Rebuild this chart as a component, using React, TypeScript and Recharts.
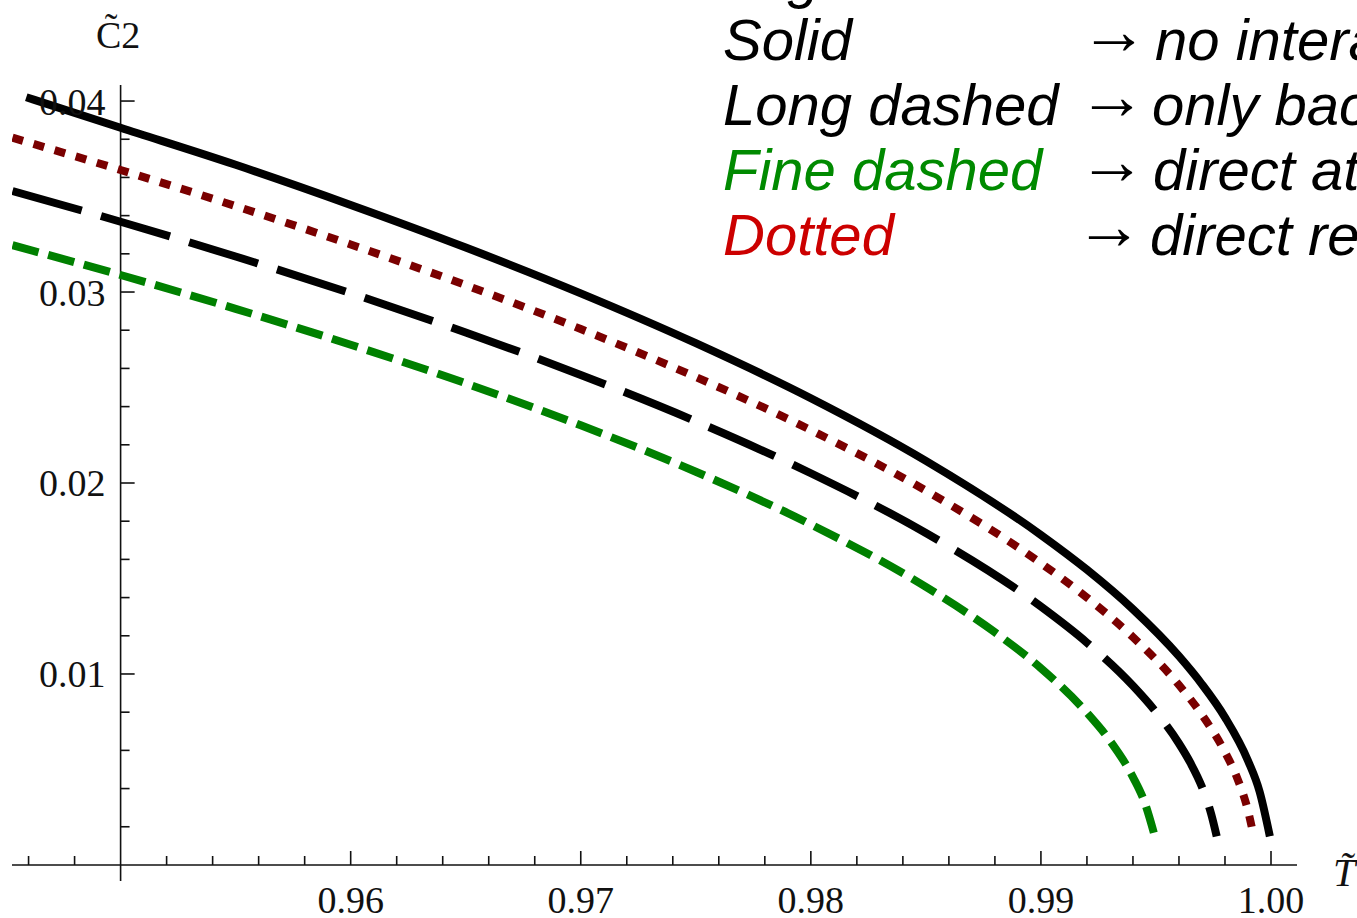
import { Label, Line, LineChart, ReferenceLine, XAxis, YAxis } from "recharts";

// reduced temperature samples and condensate values for each coupling case
const T_SOLID = [0.9459, 0.95, 0.955, 0.96, 0.965, 0.97, 0.975, 0.98, 0.985, 0.99, 0.992, 0.994, 0.996, 0.997, 0.998, 0.999, 0.9995, 0.99995];
const C_SOLID = [0.0402, 0.0386, 0.03666, 0.03456, 0.03233, 0.02993, 0.02732, 0.02444, 0.02116, 0.01728, 0.01546, 0.01339, 0.01093, 0.00946, 0.00773, 0.00546, 0.00386, 0.0015];

const T_DOTTED = [0.9453, 0.95, 0.955, 0.96, 0.965, 0.97, 0.975, 0.98, 0.985, 0.99, 0.992, 0.994, 0.996, 0.997, 0.998, 0.9985, 0.999, 0.99925];
const C_DOTTED = [0.03808, 0.03639, 0.0345, 0.03249, 0.03036, 0.02806, 0.02555, 0.02277, 0.0196, 0.0158, 0.014, 0.01193, 0.00942, 0.00786, 0.00591, 0.00464, 0.00284, 0.0015];

const T_LONG = [0.9453, 0.95, 0.955, 0.96, 0.965, 0.97, 0.975, 0.98, 0.985, 0.99, 0.992, 0.994, 0.995, 0.996, 0.9965, 0.997, 0.9974, 0.99764];
const C_LONG = [0.03529, 0.03368, 0.03186, 0.02994, 0.02788, 0.02566, 0.02323, 0.02051, 0.01738, 0.01353, 0.01164, 0.00938, 0.00801, 0.00636, 0.00534, 0.00408, 0.00267, 0.0015];

const T_FINE = [0.9453, 0.95, 0.955, 0.96, 0.965, 0.97, 0.975, 0.98, 0.985, 0.988, 0.99, 0.992, 0.993, 0.994, 0.9945, 0.99495];
const C_FINE = [0.03245, 0.03089, 0.02912, 0.02724, 0.02522, 0.02302, 0.02059, 0.01783, 0.01456, 0.01218, 0.0103, 0.00797, 0.00651, 0.0046, 0.0033, 0.0015];

// axis ticks
const X_MAJOR = [0.96, 0.97, 0.98, 0.99, 1.0];
const X_LABELS = ["0.96", "0.97", "0.98", "0.99", "1.00"];
const X_MINOR = [
  0.946, 0.948, 0.952, 0.954, 0.956, 0.958, 0.962, 0.964, 0.966, 0.968, 0.972, 0.974, 0.976, 0.978,
  0.982, 0.984, 0.986, 0.988, 0.992, 0.994, 0.996, 0.998,
];
const Y_MAJOR = [0.01, 0.02, 0.03, 0.04];
const Y_LABELS = ["0.01", "0.02", "0.03", "0.04"];
const Y_MINOR = [
  0.002, 0.004, 0.006, 0.008, 0.012, 0.014, 0.016, 0.018, 0.022, 0.024, 0.026, 0.028, 0.032, 0.034,
  0.036, 0.038,
];

const X_DOMAIN: [number, number] = [0.94528, 1.00113];
const Y_DOMAIN: [number, number] = [-0.00084, 0.04084];
const X_ORIGIN = 0.95;

// tick lengths in data units (major / minor)
const XT_MAJ = 0.00073;
const XT_MIN = 0.00047;
const YT_MAJ = 0.00061;
const YT_MIN = 0.00039;

const LEGEND_ROWS = [
  { name: "Solid", color: "#000", y: 60, arrowX: 1080, textX: 1155, text: "no interaction" },
  { name: "Long dashed", color: "#000", y: 125, arrowX: 1078, textX: 1152, text: "only backreaction" },
  { name: "Fine dashed", color: "#008a00", y: 190, arrowX: 1078, textX: 1153, text: "direct attraction" },
  { name: "Dotted", color: "#cc0000", y: 255, arrowX: 1075, textX: 1150, text: "direct repulsion" },
];

const zip = (ts: number[], cs: number[]) => ts.map((t, i) => ({ t, c: cs[i] }));

const serif = "'Liberation Serif', 'Times New Roman', serif";
const sans = "'Liberation Sans', Arial, sans-serif";
const AXIS = "#111";
const LW = 8;

export default function App() {
  return (
    <div style={{ position: "absolute", left: 0, top: 0, width: 1357, height: 918, overflow: "hidden", background: "#fff" }}>
      <LineChart width={1357} height={918} margin={{ top: 85, right: 60, bottom: 37, left: 12 }}>
        <XAxis type="number" dataKey="t" domain={X_DOMAIN} allowDataOverflow hide />
        <YAxis type="number" dataKey="c" domain={Y_DOMAIN} allowDataOverflow hide />

        {/* axes cross at (0.95, 0) */}
        <ReferenceLine y={0} stroke={AXIS} strokeWidth={1.6} />
        <ReferenceLine x={X_ORIGIN} stroke={AXIS} strokeWidth={1.6} />

        {X_MINOR.map((t) => (
          <ReferenceLine key={"xm" + t} segment={[{ x: t, y: 0 }, { x: t, y: XT_MIN }]} stroke={AXIS} strokeWidth={1.6} />
        ))}
        {X_MAJOR.map((t, i) => (
          <ReferenceLine key={"xM" + t} segment={[{ x: t, y: 0 }, { x: t, y: XT_MAJ }]} stroke={AXIS} strokeWidth={1.6}>
            <Label value={X_LABELS[i]} position="bottom" offset={21} fill={AXIS} fontSize={38} fontFamily={serif} />
          </ReferenceLine>
        ))}
        {Y_MINOR.map((c) => (
          <ReferenceLine key={"ym" + c} segment={[{ x: X_ORIGIN, y: c }, { x: X_ORIGIN + YT_MIN, y: c }]} stroke={AXIS} strokeWidth={1.6} />
        ))}
        {Y_MAJOR.map((c, i) => (
          <ReferenceLine key={"yM" + c} segment={[{ x: X_ORIGIN, y: c }, { x: X_ORIGIN + YT_MAJ, y: c }]} stroke={AXIS} strokeWidth={1.6}>
            <Label value={Y_LABELS[i]} position="left" offset={15} fill={AXIS} fontSize={38} fontFamily={serif} />
          </ReferenceLine>
        ))}

        <Line data={zip(T_FINE, C_FINE)} dataKey="c" type="monotone" stroke="#008000" strokeWidth={LW} strokeDasharray="27 10" dot={false} isAnimationActive={false} />
        <Line data={zip(T_LONG, C_LONG)} dataKey="c" type="monotone" stroke="#000" strokeWidth={LW} strokeDasharray="72 20" dot={false} isAnimationActive={false} />
        <Line data={zip(T_DOTTED, C_DOTTED)} dataKey="c" type="monotone" stroke="#7a0000" strokeWidth={LW} strokeDasharray="11 11" dot={false} isAnimationActive={false} />
        <Line data={zip(T_SOLID, C_SOLID)} dataKey="c" type="monotone" stroke="#000" strokeWidth={LW} dot={false} isAnimationActive={false} />
      </LineChart>

      {/* axis titles and legend */}
      <svg width={1357} height={918} style={{ position: "absolute", left: 0, top: 0, pointerEvents: "none" }}>
        <text x={96} y={48} fontFamily={serif} fontSize={38} fill={AXIS}>
          {"C\u03032"}
        </text>
        <text x={1333} y={886} fontFamily={serif} fontSize={40} fontStyle="italic" fill={AXIS}>
          {"T\u0303"}
        </text>
        <g fontFamily={sans} fontSize={58} fontStyle="italic">
          <text x={723} y={-3} fill="#000">Legend:</text>
          {LEGEND_ROWS.map((r) => (
            <g key={r.name}>
              <text x={723} y={r.y} fill={r.color}>{r.name}</text>
              <text x={r.arrowX} y={r.y - 6} fill="#000" fontSize={68} fontStyle="normal">{"\u2192"}</text>
              <text x={r.textX} y={r.y} fill="#000">{r.text}</text>
            </g>
          ))}
        </g>
      </svg>
    </div>
  );
}
